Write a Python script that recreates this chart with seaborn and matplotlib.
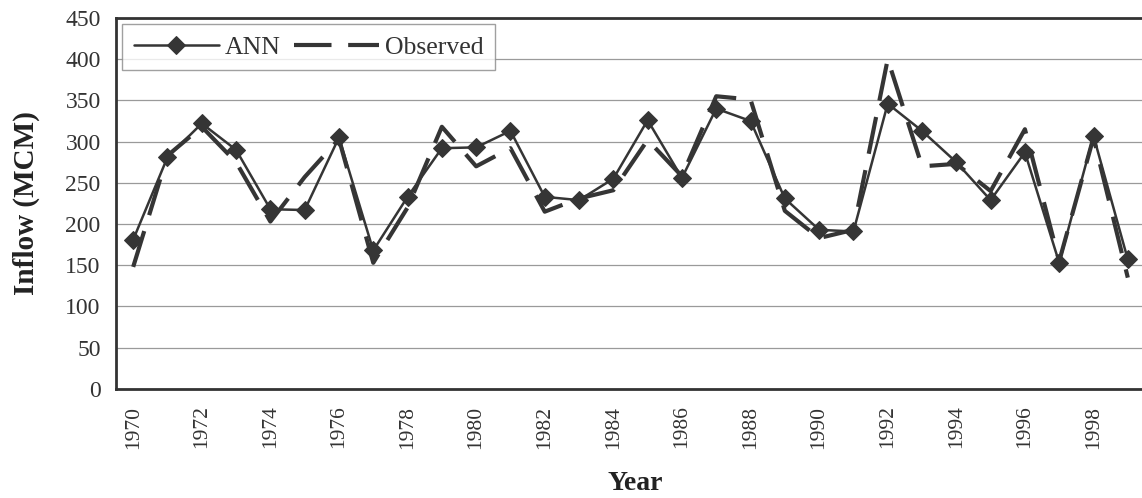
import numpy as np
import pandas as pd
import matplotlib
matplotlib.use("Agg")
import matplotlib.pyplot as plt
import seaborn as sns

# values
years = list(range(1970, 2000))
ann = [181, 281, 322, 290, 218, 217, 305, 168, 233, 292,
       293, 313, 233, 229, 255, 326, 256, 340, 325, 231,
       193, 191, 346, 313, 275, 229, 287, 153, 307, 157]
observed = [148, 283, 318, 275, 203, 257, 303, 153, 220, 318,
            270, 292, 215, 231, 241, 302, 258, 355, 351, 216,
            183, 193, 400, 270, 273, 240, 315, 155, 305, 135]

df = pd.DataFrame({"Year": years, "ANN": ann, "Observed": observed})

sns.set_style("white")
plt.rcParams['font.family'] = ['Liberation Serif', 'DejaVu Serif']

fig = plt.figure(figsize=(11.42, 4.98), dpi=100)
ax = fig.add_axes([0.1016, 0.219, 0.91, 0.745])

line_col = "#353535"
sns.lineplot(data=df, x="Year", y="ANN", ax=ax, color=line_col, linewidth=1.8,
             marker="D", markersize=9.5, markeredgecolor=line_col, label="ANN")
sns.lineplot(data=df, x="Year", y="Observed", ax=ax, color=line_col, linewidth=3,
             label="Observed")
ax.lines[1].set_dashes((9, 4))

ax.set_ylim(0, 450)
ax.set_yticks(np.arange(0, 451, 50))
ax.set_xlim(1969.5, 1999.8)
ax.set_xticks(years[::2])
ax.set_xticks(np.arange(1969.5, 2000, 1), minor=True)
ax.tick_params(axis="x", which="major", length=0, rotation=90, labelsize=15.5, pad=12,
               labelcolor="#333333")
ax.tick_params(axis="x", which="minor", length=6, width=1, color="#555555", direction="out")
ax.tick_params(axis="y", which="major", length=7, width=1, color="#555555", direction="out",
               labelsize=17, pad=4, labelcolor="#333333")
ax.grid(axis="y", color="#9a9a9a", linewidth=0.9)
ax.set_axisbelow(True)

for side in ["left", "bottom", "top"]:
    ax.spines[side].set_color("#333333")
    ax.spines[side].set_linewidth(2)
ax.spines["right"].set_visible(False)

ax.set_xlabel("Year", fontsize=20, fontweight="bold", labelpad=16, color="#222222")
ax.set_ylabel("Inflow (MCM)", fontsize=21, fontweight="bold", labelpad=18, color="#222222")

leg = ax.legend(loc="upper left", ncol=2, fontsize=18.5, frameon=True, fancybox=False,
                handlelength=3.3, handletextpad=0.25, columnspacing=0.5,
                borderpad=0.45, borderaxespad=0.25)
leg.get_frame().set_edgecolor("#888888")
leg.get_frame().set_linewidth(1)
for t in leg.get_texts():
    t.set_color("#333333")

fig.savefig("out.png", dpi=100)
